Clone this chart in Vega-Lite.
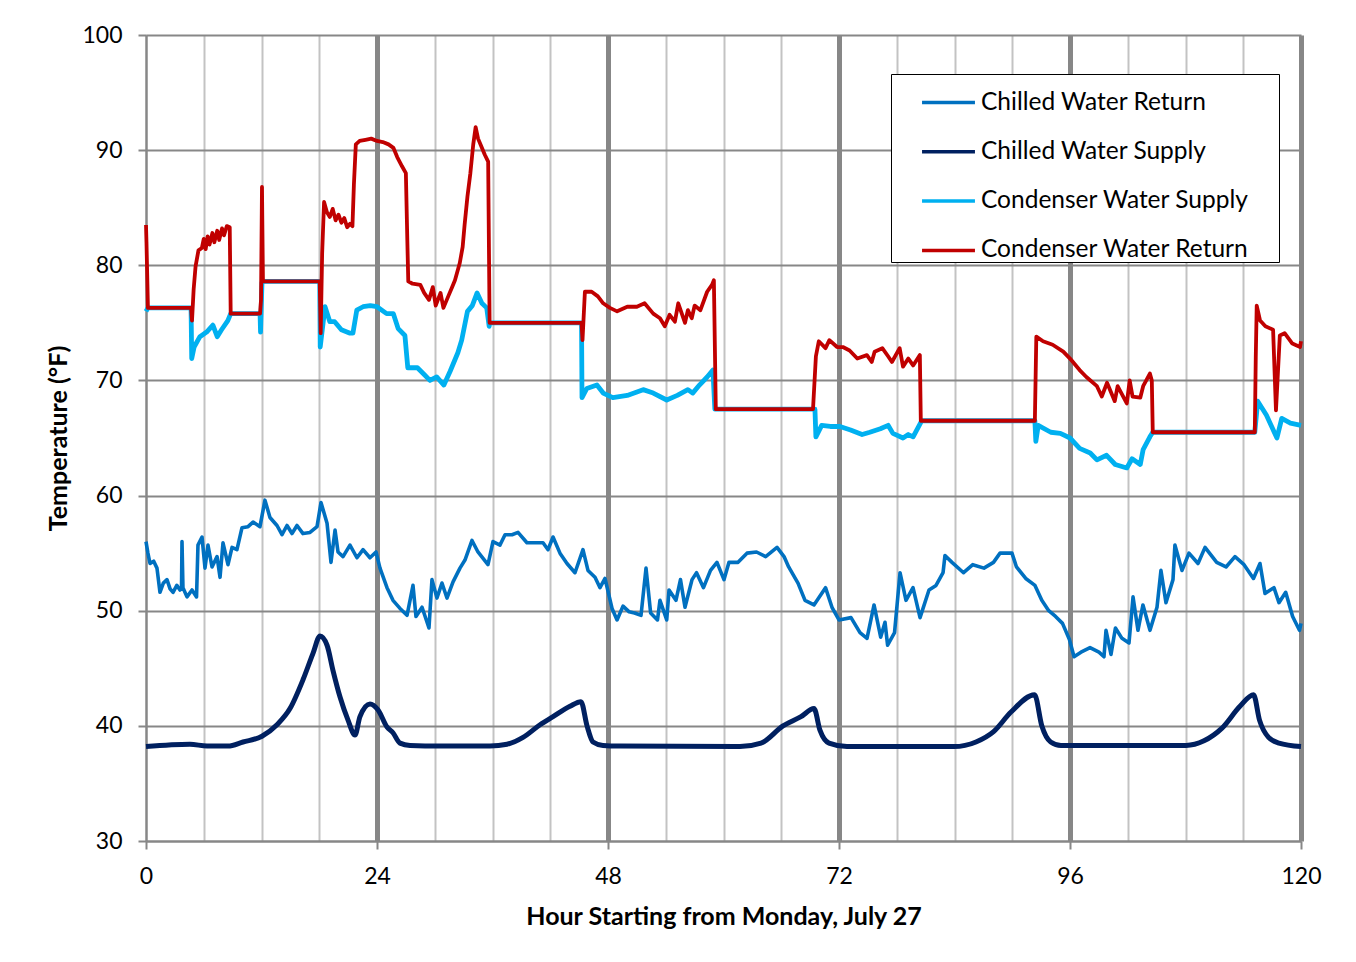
{
 "$schema": "https://vega.github.io/schema/vega-lite/v6.json",
 "width": 1155,
 "height": 806,
 "autosize": {"type": "none"},
 "padding": {"left": 146, "top": 35, "right": 55, "bottom": 121},
 "background": "white",
 "config": {"view": {"stroke": null}, "font": "Lato"},
 "datasets": {
  "cwr": [
   {"h":0,"v":56},{"h":0.2,"v":55},{"h":0.42,"v":54.1},{"h":0.8,"v":54.3},{"h":1.14,"v":53.7},{"h":1.45,"v":51.6},{"h":1.8,"v":52.4},{"h":2.18,"v":52.7},{"h":2.5,"v":51.9},{"h":2.81,"v":51.6},{"h":3.2,"v":52.2},{"h":3.53,"v":51.8},{"h":3.69,"v":52},{"h":3.74,"v":56},{"h":3.84,"v":52},{"h":4.26,"v":51.2},{"h":4.78,"v":51.8},{"h":5.25,"v":51.2},{"h":5.4,"v":55.7},{"h":5.82,"v":56.4},{"h":6.13,"v":53.7},{"h":6.44,"v":55.7},{"h":6.86,"v":53.8},{"h":7.38,"v":54.7},{"h":7.69,"v":52.9},{"h":8.0,"v":55.9},{"h":8.52,"v":54},{"h":8.94,"v":55.5},{"h":9.45,"v":55.3},{"h":9.97,"v":57.2},{"h":10.6,"v":57.3},{"h":11.12,"v":57.7},{"h":11.84,"v":57.3},{"h":12.36,"v":59.6},{"h":12.88,"v":58.1},{"h":13.61,"v":57.4},{"h":14.13,"v":56.6},{"h":14.65,"v":57.4},{"h":15.17,"v":56.7},{"h":15.69,"v":57.4},{"h":16.31,"v":56.7},{"h":17.04,"v":56.8},{"h":17.77,"v":57.3},{"h":18.18,"v":59.4},{"h":18.81,"v":57.6},{"h":19.22,"v":54.2},{"h":19.64,"v":57},{"h":19.95,"v":55.1},{"h":20.47,"v":54.7},{"h":21.19,"v":55.7},{"h":21.92,"v":54.6},{"h":22.55,"v":55.3},{"h":23.27,"v":54.6},{"h":23.9,"v":55.1},{"h":24.31,"v":53.7},{"h":25.04,"v":52},{"h":25.66,"v":50.9},{"h":26.39,"v":50.2},{"h":27.12,"v":49.6},{"h":27.74,"v":52.2},{"h":28.05,"v":49.5},{"h":28.68,"v":50.3},{"h":29.4,"v":48.5},{"h":29.71,"v":52.7},{"h":30.23,"v":51.1},{"h":30.75,"v":52.4},{"h":31.27,"v":51.1},{"h":31.9,"v":52.5},{"h":32.62,"v":53.7},{"h":33.14,"v":54.4},{"h":33.87,"v":56.1},{"h":34.49,"v":55.1},{"h":35.53,"v":54},{"h":36.05,"v":56},{"h":36.78,"v":55.7},{"h":37.3,"v":56.6},{"h":38.03,"v":56.6},{"h":38.65,"v":56.8},{"h":39.58,"v":55.9},{"h":40.42,"v":55.9},{"h":41.25,"v":55.9},{"h":41.77,"v":55.3},{"h":42.29,"v":56.4},{"h":43.01,"v":55},{"h":43.74,"v":54.1},{"h":44.57,"v":53.3},{"h":45.4,"v":55.3},{"h":45.92,"v":53.5},{"h":46.65,"v":52.9},{"h":47.17,"v":52},{"h":47.69,"v":52.8},{"h":48.42,"v":50.2},{"h":48.94,"v":49.2},{"h":49.56,"v":50.4},{"h":50.2,"v":49.9},{"h":50.75,"v":49.8},{"h":51.43,"v":49.6},{"h":51.95,"v":53.7},{"h":52.43,"v":49.8},{"h":53.14,"v":49.2},{"h":53.4,"v":50.9},{"h":54.1,"v":49.2},{"h":54.34,"v":51.8},{"h":55.06,"v":50.9},{"h":55.53,"v":52.7},{"h":56.0,"v":50.3},{"h":56.73,"v":52.7},{"h":57.2,"v":53.3},{"h":57.92,"v":52},{"h":58.65,"v":53.5},{"h":59.32,"v":54.2},{"h":60.05,"v":52.7},{"h":60.57,"v":54.2},{"h":61.51,"v":54.2},{"h":62.44,"v":55},{"h":63.43,"v":55.1},{"h":64.38,"v":54.7},{"h":65.56,"v":55.5},{"h":66.29,"v":54.7},{"h":66.77,"v":53.8},{"h":67.74,"v":52.4},{"h":68.47,"v":50.9},{"h":69.4,"v":50.5},{"h":70.6,"v":52},{"h":71.27,"v":50.3},{"h":72.0,"v":49.2},{"h":73.25,"v":49.4},{"h":74.18,"v":48.1},{"h":74.91,"v":47.6},{"h":75.64,"v":50.5},{"h":76.33,"v":47.7},{"h":76.78,"v":49},{"h":77.05,"v":47},{"h":77.77,"v":48.1},{"h":78.34,"v":53.3},{"h":78.96,"v":50.9},{"h":79.69,"v":52},{"h":80.42,"v":49.4},{"h":81.35,"v":51.8},{"h":82.08,"v":52.2},{"h":82.81,"v":53.3},{"h":83.01,"v":54.8},{"h":83.74,"v":54.2},{"h":84.94,"v":53.3},{"h":85.9,"v":54},{"h":87.06,"v":53.7},{"h":88.05,"v":54.2},{"h":88.73,"v":55},{"h":89.97,"v":55},{"h":90.44,"v":53.8},{"h":91.4,"v":52.8},{"h":92.36,"v":52.2},{"h":93.07,"v":50.9},{"h":93.79,"v":50},{"h":94.5,"v":49.5},{"h":95.22,"v":48.9},{"h":95.94,"v":47.5},{"h":96.42,"v":46},{"h":97.14,"v":46.4},{"h":98.08,"v":46.8},{"h":99.01,"v":46.4},{"h":99.53,"v":46},{"h":99.74,"v":48.3},{"h":100.26,"v":46.2},{"h":100.72,"v":48.5},{"h":101.4,"v":47.6},{"h":102.13,"v":47.2},{"h":102.55,"v":51.2},{"h":103.06,"v":48.3},{"h":103.58,"v":50.5},{"h":104.31,"v":48.3},{"h":105.04,"v":50.3},{"h":105.45,"v":53.5},{"h":105.97,"v":50.7},{"h":106.7,"v":52.7},{"h":106.9,"v":55.7},{"h":107.64,"v":53.5},{"h":108.36,"v":55},{"h":109.3,"v":54.1},{"h":110.03,"v":55.5},{"h":111.24,"v":54.2},{"h":112.21,"v":53.8},{"h":113.14,"v":54.7},{"h":114.08,"v":54},{"h":115.06,"v":52.8},{"h":115.74,"v":54.1},{"h":116.26,"v":51.5},{"h":117.19,"v":52},{"h":117.71,"v":50.7},{"h":118.41,"v":51.6},{"h":119.13,"v":49.5},{"h":119.84,"v":48.3},{"h":120,"v":48.9}
  ],
  "chws": [
   {"h":0,"v":38.2},{"h":4.57,"v":38.4},{"h":6.34,"v":38.25},{"h":8.52,"v":38.25},{"h":10.08,"v":38.6},{"h":12.05,"v":39.1},{"h":13.61,"v":40.1},{"h":14.96,"v":41.5},{"h":16.31,"v":44},{"h":17.35,"v":46.3},{"h":18.08,"v":47.8},{"h":18.81,"v":47},{"h":19.43,"v":44.8},{"h":20.16,"v":42.5},{"h":20.99,"v":40.5},{"h":21.71,"v":39.2},{"h":22.23,"v":40.8},{"h":23.27,"v":41.9},{"h":24.1,"v":41.4},{"h":25.04,"v":39.9},{"h":25.66,"v":39.4},{"h":26.39,"v":38.5},{"h":27.43,"v":38.3},{"h":30.55,"v":38.25},{"h":35.74,"v":38.25},{"h":37.51,"v":38.4},{"h":39.17,"v":39},{"h":40.94,"v":40.1},{"h":42.29,"v":40.8},{"h":44.05,"v":41.7},{"h":45.19,"v":42.1},{"h":45.82,"v":40},{"h":46.44,"v":38.6},{"h":47.48,"v":38.3},{"h":49.25,"v":38.25},{"h":61.71,"v":38.2},{"h":63.9,"v":38.5},{"h":66.18,"v":40},{"h":68.05,"v":40.8},{"h":69.4,"v":41.5},{"h":70.03,"v":39.6},{"h":70.96,"v":38.5},{"h":72.83,"v":38.2},{"h":83.95,"v":38.2},{"h":86.23,"v":38.6},{"h":88.06,"v":39.5},{"h":89.87,"v":41.2},{"h":92.32,"v":42.7},{"h":93.07,"v":40},{"h":93.99,"v":38.6},{"h":95.06,"v":38.3},{"h":108.05,"v":38.3},{"h":109.92,"v":38.7},{"h":111.79,"v":39.8},{"h":113.66,"v":41.7},{"h":115.07,"v":42.7},{"h":115.69,"v":40.5},{"h":116.63,"v":39},{"h":117.71,"v":38.5},{"h":120,"v":38.2}
  ],
  "cws": [
   {"h":0,"v":76},{"h":0.2,"v":76.3},{"h":4.68,"v":76.3},{"h":4.75,"v":71.9},{"h":5.0,"v":72.9},{"h":5.6,"v":73.8},{"h":6.3,"v":74.2},{"h":6.95,"v":74.8},{"h":7.4,"v":73.8},{"h":7.85,"v":74.4},{"h":8.5,"v":75.2},{"h":8.8,"v":75.8},{"h":11.85,"v":75.8},{"h":11.9,"v":74.2},{"h":12.05,"v":78.5},{"h":12.15,"v":78.6},{"h":18.05,"v":78.6},{"h":18.1,"v":72.9},{"h":18.6,"v":76.4},{"h":19.1,"v":75.1},{"h":19.6,"v":75.1},{"h":20.3,"v":74.4},{"h":21.2,"v":74.1},{"h":21.5,"v":74.1},{"h":21.9,"v":76.1},{"h":22.55,"v":76.4},{"h":23.3,"v":76.5},{"h":24.0,"v":76.4},{"h":25.0,"v":75.8},{"h":25.7,"v":75.8},{"h":26.2,"v":74.5},{"h":26.9,"v":73.9},{"h":27.2,"v":71.1},{"h":28.2,"v":71.1},{"h":28.8,"v":70.6},{"h":29.5,"v":70},{"h":30.2,"v":70.3},{"h":30.95,"v":69.6},{"h":31.6,"v":70.8},{"h":32.4,"v":72.4},{"h":32.8,"v":73.5},{"h":33.4,"v":76},{"h":33.9,"v":76.5},{"h":34.4,"v":77.6},{"h":34.9,"v":76.7},{"h":35.4,"v":76.3},{"h":35.65,"v":74.7},{"h":35.7,"v":75},{"h":45.25,"v":75},{"h":45.3,"v":68.5},{"h":45.8,"v":69.3},{"h":46.85,"v":69.6},{"h":47.5,"v":68.9},{"h":48.5,"v":68.5},{"h":50.0,"v":68.7},{"h":51.65,"v":69.2},{"h":52.7,"v":68.9},{"h":54.1,"v":68.3},{"h":55.2,"v":68.7},{"h":56.3,"v":69.2},{"h":56.8,"v":68.9},{"h":57.5,"v":69.6},{"h":58.3,"v":70.3},{"h":58.9,"v":70.9},{"h":59.1,"v":67.5},{"h":69.5,"v":67.5},{"h":69.6,"v":65.1},{"h":70.2,"v":66.1},{"h":71.1,"v":66},{"h":72.1,"v":66},{"h":73.2,"v":65.7},{"h":74.4,"v":65.3},{"h":75.2,"v":65.5},{"h":76.3,"v":65.8},{"h":77.1,"v":66.1},{"h":77.6,"v":65.4},{"h":78.65,"v":65},{"h":79.2,"v":65.3},{"h":79.7,"v":65.1},{"h":80.6,"v":66.5},{"h":92.35,"v":66.5},{"h":92.45,"v":64.7},{"h":92.7,"v":66.1},{"h":94.0,"v":65.5},{"h":95.0,"v":65.4},{"h":96.0,"v":65},{"h":97.0,"v":64.1},{"h":98.1,"v":63.7},{"h":98.8,"v":63.1},{"h":99.8,"v":63.5},{"h":100.7,"v":62.7},{"h":101.9,"v":62.4},{"h":102.45,"v":63.2},{"h":103.3,"v":62.7},{"h":103.6,"v":64},{"h":104.3,"v":65.1},{"h":104.6,"v":65.5},{"h":115.2,"v":65.5},{"h":115.5,"v":68.2},{"h":116.4,"v":67},{"h":117.5,"v":65},{"h":118.0,"v":66.7},{"h":118.9,"v":66.3},{"h":120,"v":66.1}
  ],
  "cwrr": [
   {"h":0,"v":83.5},{"h":0.05,"v":82},{"h":0.2,"v":76.3},{"h":4.68,"v":76.3},{"h":4.78,"v":75.2},{"h":4.95,"v":77.9},{"h":5.15,"v":79.9},{"h":5.45,"v":81.3},{"h":5.8,"v":81.5},{"h":6.0,"v":82.3},{"h":6.2,"v":81.4},{"h":6.4,"v":82.5},{"h":6.6,"v":81.8},{"h":6.9,"v":82.8},{"h":7.1,"v":82.0},{"h":7.4,"v":83.0},{"h":7.6,"v":82.2},{"h":7.9,"v":83.2},{"h":8.1,"v":82.6},{"h":8.4,"v":83.4},{"h":8.7,"v":83.3},{"h":8.8,"v":75.8},{"h":11.85,"v":75.8},{"h":11.95,"v":77},{"h":12.05,"v":86.8},{"h":12.15,"v":78.6},{"h":18.05,"v":78.6},{"h":18.15,"v":74.1},{"h":18.3,"v":81},{"h":18.5,"v":85.5},{"h":18.8,"v":84.6},{"h":19.1,"v":84.2},{"h":19.4,"v":84.9},{"h":19.7,"v":83.9},{"h":20.0,"v":84.4},{"h":20.3,"v":83.7},{"h":20.6,"v":84.1},{"h":20.9,"v":83.3},{"h":21.2,"v":83.6},{"h":21.45,"v":83.4},{"h":21.6,"v":87},{"h":21.8,"v":90.5},{"h":22.2,"v":90.8},{"h":22.8,"v":90.9},{"h":23.4,"v":91},{"h":24.0,"v":90.8},{"h":24.6,"v":90.7},{"h":25.2,"v":90.5},{"h":25.7,"v":90.2},{"h":26.1,"v":89.4},{"h":26.6,"v":88.6},{"h":27.0,"v":88},{"h":27.15,"v":82.2},{"h":27.25,"v":78.6},{"h":27.7,"v":78.4},{"h":28.5,"v":78.3},{"h":28.9,"v":77.6},{"h":29.4,"v":77},{"h":29.8,"v":78.1},{"h":30.1,"v":76.5},{"h":30.6,"v":77.6},{"h":30.9,"v":76.3},{"h":31.4,"v":77.3},{"h":31.8,"v":78.1},{"h":32.1,"v":78.7},{"h":32.6,"v":80.2},{"h":32.9,"v":81.6},{"h":33.1,"v":83.5},{"h":33.4,"v":86},{"h":33.7,"v":88},{"h":34.0,"v":90.5},{"h":34.25,"v":92},{"h":34.5,"v":91},{"h":34.8,"v":90.4},{"h":35.2,"v":89.6},{"h":35.55,"v":89},{"h":35.7,"v":75},{"h":45.25,"v":75},{"h":45.35,"v":73.5},{"h":45.6,"v":77.7},{"h":46.3,"v":77.7},{"h":46.95,"v":77.3},{"h":47.5,"v":76.7},{"h":48.2,"v":76.3},{"h":48.95,"v":76},{"h":50.0,"v":76.4},{"h":51.0,"v":76.4},{"h":51.8,"v":76.7},{"h":52.7,"v":75.8},{"h":53.4,"v":75.4},{"h":53.9,"v":74.7},{"h":54.4,"v":75.7},{"h":54.95,"v":75.1},{"h":55.3,"v":76.7},{"h":56.0,"v":75},{"h":56.3,"v":76.1},{"h":56.7,"v":75.4},{"h":57.0,"v":76.5},{"h":57.6,"v":76.1},{"h":58.3,"v":77.7},{"h":58.8,"v":78.3},{"h":59.0,"v":78.7},{"h":59.2,"v":67.5},{"h":69.3,"v":67.5},{"h":69.6,"v":72.1},{"h":69.9,"v":73.4},{"h":70.6,"v":72.8},{"h":71.0,"v":73.5},{"h":71.8,"v":72.9},{"h":72.4,"v":72.9},{"h":73.1,"v":72.6},{"h":73.9,"v":71.9},{"h":74.9,"v":72.2},{"h":75.4,"v":71.6},{"h":75.7,"v":72.5},{"h":76.5,"v":72.8},{"h":77.1,"v":72.1},{"h":77.5,"v":71.6},{"h":78.3,"v":72.8},{"h":78.65,"v":71.2},{"h":79.2,"v":71.9},{"h":79.7,"v":71.3},{"h":80.4,"v":72.2},{"h":80.5,"v":66.5},{"h":92.35,"v":66.5},{"h":92.5,"v":73.8},{"h":93.2,"v":73.4},{"h":94.2,"v":73.1},{"h":95.3,"v":72.5},{"h":96.0,"v":71.9},{"h":97.0,"v":70.9},{"h":97.7,"v":70.3},{"h":98.8,"v":69.5},{"h":99.3,"v":68.6},{"h":99.85,"v":69.8},{"h":100.65,"v":68.2},{"h":100.95,"v":69.5},{"h":101.9,"v":68},{"h":102.2,"v":70},{"h":102.5,"v":68.6},{"h":103.3,"v":68.5},{"h":103.6,"v":69.5},{"h":104.3,"v":70.6},{"h":104.5,"v":70},{"h":104.6,"v":65.5},{"h":115.2,"v":65.5},{"h":115.3,"v":72},{"h":115.4,"v":76.5},{"h":115.75,"v":75.2},{"h":116.3,"v":74.7},{"h":117.1,"v":74.4},{"h":117.4,"v":67.4},{"h":117.8,"v":73.9},{"h":118.3,"v":74.1},{"h":119.1,"v":73.2},{"h":119.9,"v":72.9},{"h":120,"v":73.4}
  ]
 },
 "encoding": {
  "x": {
   "field": "h", "type": "quantitative",
   "scale": {"domain": [0, 120], "nice": false},
   "axis": {
    "values": [0,6,12,18,24,30,36,42,48,54,60,66,72,78,84,90,96,102,108,114,120],
    "labelExpr": "datum.value % 24 === 0 ? datum.label : ''",
    "title": "Hour Starting from Monday, July 27",
    "grid": true,
    "gridColor": {"condition": {"test": "datum.value % 24 === 0", "value": "#878787"}, "value": "#c3c3c3"},
    "gridWidth": {"condition": {"test": "datum.value % 24 === 0 && datum.value > 0", "value": 5}, "value": 2},
    "domainColor": "#878787", "domainWidth": 2,
    "tickColor": "#878787", "tickWidth": 2, "tickSize": 8,
    "tickOpacity": {"condition": {"test": "datum.value % 24 === 0", "value": 1}, "value": 0},
    "labelFontSize": 23, "labelColor": "black", "labelPadding": 16, "labelFlush": false,
    "titleFontSize": 25, "titleFontWeight": "bold", "titleColor": "black",
    "titleY": 75, "titleBaseline": "middle"
   }
  },
  "y": {
   "field": "v", "type": "quantitative",
   "scale": {"domain": [30, 100], "nice": false},
   "axis": {
    "values": [30,40,50,60,70,80,90,100],
    "title": "Temperature (°F)",
    "grid": true, "gridColor": "#878787", "gridWidth": 2,
    "domainColor": "#878787", "domainWidth": 2,
    "tickColor": "#878787", "tickWidth": 2, "tickSize": 8,
    "labelFontSize": 23, "labelColor": "black", "labelPadding": 16,
    "titleFontSize": 25, "titleFontWeight": "bold", "titleColor": "black",
    "titleX": -88, "titleY": 403, "titleAngle": -90, "titleAlign": "center", "titleBaseline": "middle"
   }
  },
  "color": {
   "field": "s", "type": "nominal",
   "scale": {
    "domain": ["Chilled Water Return", "Chilled Water Supply", "Condenser Water Supply", "Condenser Water Return"],
    "range": ["#0070c0", "#002060", "#00b0f0", "#c00000"]
   },
   "legend": {
    "orient": "none", "legendX": 745, "legendY": 39, "direction": "vertical",
    "title": " ", "titleOrient": "right", "titlePadding": 30, "titleFontSize": 10,
    "strokeColor": "black", "fillColor": "white",
    "padding": 0, "symbolType": "stroke", "symbolSize": 2800, "symbolStrokeWidth": 3.5,
    "symbolOffset": 29, "labelOffset": 4, "rowPadding": 9.3,
    "labelFontSize": 24.5, "labelColor": "black", "labelLimit": 600
   }
  }
 },
 "layer": [
  {"data": {"name": "cwr"}, "mark": {"type": "line", "strokeWidth": 3.6, "strokeJoin": "round"}, "encoding": {"color": {"datum": "Chilled Water Return"}}},
  {"data": {"name": "chws"}, "mark": {"type": "line", "strokeWidth": 5, "interpolate": "monotone"}, "encoding": {"color": {"datum": "Chilled Water Supply"}}},
  {"data": {"name": "cws"}, "mark": {"type": "line", "strokeWidth": 4.8, "strokeJoin": "round"}, "encoding": {"color": {"datum": "Condenser Water Supply"}}},
  {"data": {"name": "cwrr"}, "mark": {"type": "line", "strokeWidth": 3.8, "strokeJoin": "round"}, "encoding": {"color": {"datum": "Condenser Water Return"}}}
 ]
}
